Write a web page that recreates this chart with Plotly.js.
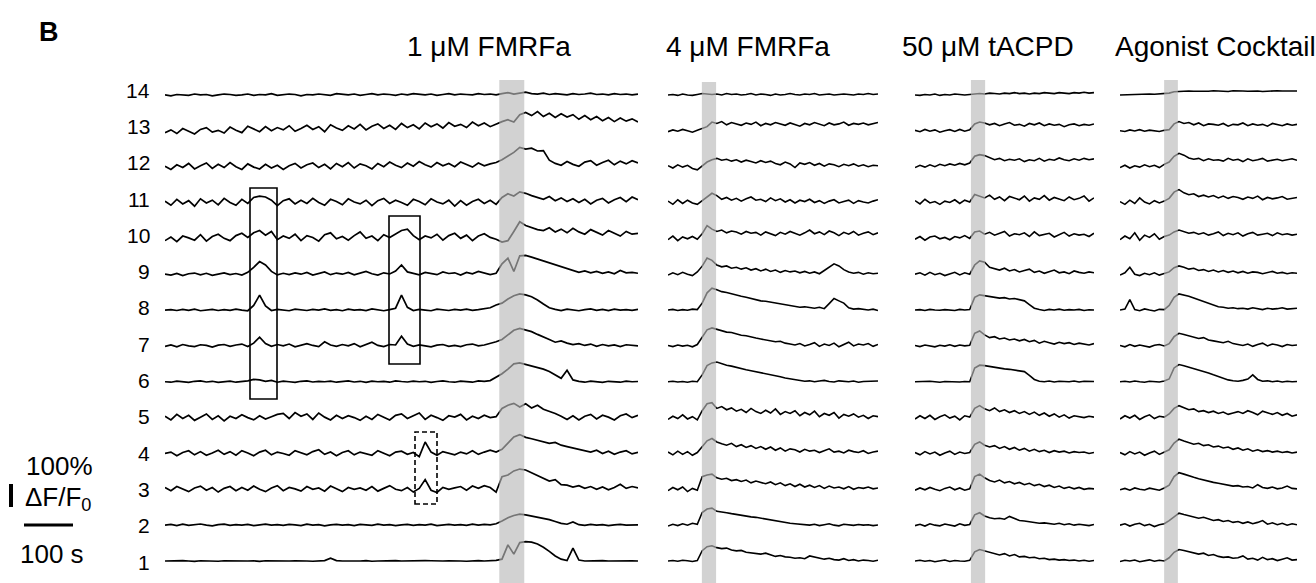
<!DOCTYPE html>
<html><head><meta charset="utf-8">
<script src="https://cdn.plot.ly/plotly-3.0.1.min.js"></script>
<style>html,body{margin:0;padding:0;background:#fff}#chart{width:1316px;height:583px}</style>
</head><body><div id="chart"></div>
<script>
// ---- data (ΔF/F0 in %, one sample list per cell and condition) ----
const panelTitles = ["1 μM FMRFa", "4 μM FMRFa", "50 μM tACPD", "Agonist Cocktail"];
const panelDuration = [965, 428, 365, 361];          // seconds shown per condition
const stimWindow = [[682, 733], [69, 98], [114, 143], [90, 118]]; // application (s)
const cellLabels = ["1","2","3","4","5","6","7","8","9","10","11","12","13","14"];

// Condition 1: 1 µM FMRFa
const p1_c1  = [0,1,-1,2,0,-2,1,0,2,-1, 1,0,2,-1,0,1,-2,1,0,2, -1,0,1,2,0,-1,1,2,12,2, 0,-1,1,0,2,-1,0,1,-1,2, 0,1,-1,0,2,1,-1,0,1,2, 0,-1,1,2,0,1,3,8,70,30, 80,84,82,74,60,42,22,8,2,56, 4,0,1,-1,2,0,1,-1,0,1, 0];
const p1_c2  = [0,3,-2,4,-1,2,5,0,-3,2, 4,-1,2,0,3,-2,1,4,0,2, -1,3,1,-2,4,0,2,-3,1,3, 0,2,-2,3,1,-1,4,0,2,-2, 1,3,-1,2,0,4,-2,1,3,0, 2,-1,4,0,3,1,6,18,32,42, 48,45,40,36,30,24,16,8,4,14, 2,-1,3,0,2,-2,1,3,0,2, 1];
const p1_c3  = [8,-6,12,0,-10,6,14,-4,8,-12, 4,12,-6,8,-4,14,0,-10,6,16, -6,8,2,-8,12,0,6,-8,14,2, -10,8,0,6,-4,12,-8,4,16,0, -6,8,-12,4,42,-4,-14,8,0,6, 12,-4,14,4,16,8,-12,55,62,80, 88,84,72,60,48,36,42,20,18,10, 16,4,12,0,10,-2,8,22,4,12, 6];
const p1_c4  = [0,6,-10,4,12,-6,8,-8,2,14, -4,8,-8,12,2,-10,6,14,-6,6, 0,-8,12,2,-6,8,16,-4,6,-10, 4,12,-6,6,0,-8,12,2,-10,6, 10,-4,4,-14,50,6,-8,8,2,-6, 6,-2,12,-4,6,14,6,18,45,72, 82,70,64,58,52,44,48,36,30,24, 18,10,6,14,0,10,-4,6,12,-2, 5];
const p1_c5  = [6,-10,14,-4,10,-12,2,16,-8,8, -14,6,-4,12,0,-10,8,-6,4,14, 18,-4,22,6,16,-8,20,2,-10,10, -4,8,0,-12,6,-8,14,2,-10,10, 16,-4,8,20,-8,10,0,-12,8,2, 14,-10,6,-4,10,0,4,40,54,62, 46,60,42,54,36,28,18,6,-8,8, -10,6,14,-6,10,2,-10,8,16,0, 10];
const p1_c6  = [0,-2,3,0,-3,2,4,-1,2,-3, 1,3,-2,0,4,10,8,2,6,-2, 3,0,-3,2,4,-1,2,0,3,-2, 1,4,-1,2,-3,3,0,2,-2,4, 1,-1,3,0,2,-3,1,4,0,-2, 3,1,-2,4,2,5,20,35,55,78, 82,76,70,62,55,45,30,15,50,8, 2,-2,3,0,-3,2,1,-2,3,0, 1];
const p1_c7  = [-2,4,-4,6,0,-3,5,2,-5,3, 6,-2,4,8,-3,12,38,10,-2,6, 0,8,-4,4,10,2,-3,18,4,-2, 6,0,10,-4,5,16,2,-3,6,4, 42,8,-2,4,0,-4,3,6,-2,2, -3,5,8,0,4,10,18,28,50,68, 76,70,62,50,40,28,16,22,12,6, 10,2,8,-2,6,0,4,-3,5,2, 0];
const p1_c8  = [0,2,-2,3,-1,4,-3,1,3,-2, 2,-1,4,0,-3,20,65,18,-2,3, 0,-3,4,1,-2,3,0,5,-1,2, -3,4,0,2,-2,5,1,-3,2,8, 65,12,-2,3,0,-3,4,1,-2,3, 0,4,-1,2,5,10,22,30,48,62, 70,66,58,44,26,10,3,-2,4,0, -3,2,5,-1,3,-2,4,0,2,-1, 3];
const p1_c9  = [0,-4,3,-6,2,5,-3,4,-5,1, 6,-2,3,-4,8,30,55,40,12,-3, 4,-2,6,0,8,-4,3,10,-2,5, 0,8,-3,4,12,2,-4,6,1,14, 40,10,2,-3,8,4,-2,10,3,6, -4,8,2,12,4,-2,4,45,70,12, 80,82,74,66,58,50,42,32,24,16, 8,14,6,12,4,10,2,16,6,8, 4];
const p1_c10 = [-10,6,-14,10,2,-8,16,-12,8,18, 0,-10,12,22,4,24,34,14,30,-6, 10,0,18,-10,12,4,-12,16,24,-2, 8,-8,12,28,0,10,-10,16,4,20, 34,40,12,-6,10,2,18,-8,12,22, 0,14,-10,10,20,4,-4,-16,-10,30, 72,56,48,38,34,46,28,40,24,44, 28,18,38,26,14,34,22,10,30,18, 22];
const p1_c11 = [6,-12,14,-6,8,-16,16,-2,10,-10, 18,0,-12,14,-4,22,28,24,10,-14, 8,16,-6,10,-4,18,0,-12,14,4, -10,16,2,-6,10,-14,8,18,-4,10, 0,-12,14,4,-10,16,2,-6,10,-16, 8,-12,4,14,-4,10,-8,22,38,28, 46,40,30,22,14,26,8,20,4,16, 0,14,-6,10,18,-2,12,22,4,24, 12];
const p1_c12 = [2,-12,8,-4,14,-10,4,16,-8,10, -4,18,0,-12,12,-2,-10,10,-6,6, -12,4,14,-6,8,16,-4,10,-10,14, 0,18,-6,12,4,-10,14,0,20,6, -4,16,2,22,8,-2,18,4,14,0, 20,8,-2,16,4,12,18,30,45,62, 84,76,80,68,70,28,14,6,22,10, 2,20,26,6,18,28,8,24,12,26, 16];
const p1_c13 = [-8,4,-12,10,-2,-14,6,14,-6,2, -10,16,2,-8,20,8,-4,18,0,14, 4,22,-2,10,24,6,18,-4,26,12, 2,22,8,28,4,20,30,10,24,6, 32,14,26,8,34,18,30,12,36,20, 28,14,38,22,34,18,30,40,48,38, 70,80,66,84,62,76,58,74,60,70, 50,66,48,62,44,58,40,56,42,52, 38];
const p1_c14 = [0,-4,2,0,-2,4,0,2,-4,0, 4,2,-2,0,4,-2,2,0,6,-2, 0,4,2,-4,2,0,4,0,-2,6, 2,0,4,-2,2,6,0,4,2,-2, 4,0,6,2,0,4,-2,2,6,0, 4,2,0,6,2,4,0,6,10,4, 8,12,6,4,8,2,6,4,0,6, 2,4,8,2,4,0,6,2,4,0, 4];

// Condition 2: 4 µM FMRFa
const p2_c1  = [0,2,-1,3,1,-2,2,45,62,66, 58,54,56,48,44,46,38,36,32,30, 34,26,20,24,18,16,12,14,10,22, 18,14,8,12,6,4,10,2,6,0, 4,2,-1,3];
const p2_c2  = [-4,4,-2,6,0,8,4,55,70,74, 60,58,54,50,46,44,40,36,34,30, 26,22,18,16,12,8,6,4,2,0, 4,-2,2,6,0,-3,4,2,-1,3, 0,2,-2,1];
const p2_c3  = [-6,8,-2,10,-10,4,-4,55,62,66, 50,44,48,38,42,34,40,28,36,30, 24,32,20,28,16,24,12,22,10,18, 8,16,4,14,6,10,2,12,0,8, 4,10,2,6];
const p2_c4  = [6,-6,10,-4,8,-8,4,30,55,65, 50,42,36,44,30,38,26,34,22,30, 18,28,14,24,10,20,16,6,18,10, 14,4,12,20,6,10,2,14,8,4, 12,0,6,10];
const p2_c5  = [-8,6,-4,12,-6,4,-10,30,60,65, 40,48,34,42,28,36,22,40,26,18, 32,20,38,14,26,18,30,8,22,12, 28,4,18,10,22,-2,14,6,16,2, 10,-4,8,4];
const p2_c6  = [0,2,-1,1,-2,2,0,30,70,82, 86,78,72,68,62,58,52,48,44,40, 36,32,26,22,16,12,8,6,2,4, 0,3,6,1,-1,4,2,0,3,-2, 1,2,0,3];
const p2_c7  = [2,-3,4,-1,3,-4,6,40,70,78, 72,66,60,58,52,46,44,38,34,30, 26,22,18,20,12,8,4,10,0,6, 14,-2,8,2,12,-4,6,16,0,8, 4,10,-2,6];
const p2_c8  = [0,3,-2,2,-1,4,2,30,75,95, 88,80,76,70,66,60,56,50,46,40, 38,34,30,26,22,18,16,12,14,10, 8,12,6,28,50,40,30,10,4,6, 2,0,4,-2];
const p2_c9  = [-4,6,-2,8,0,-6,10,35,70,60, 40,32,36,26,30,22,28,18,24,14, 22,12,18,8,16,10,14,6,12,4, 10,2,16,30,45,36,20,10,4,8, 0,6,2,4];
const p2_c10 = [-6,10,-10,6,-2,8,-4,20,55,40, 30,36,24,32,28,18,30,22,26,14, 28,20,12,26,18,30,22,14,24,36, 20,28,16,32,24,12,26,18,30,14, 22,28,16,24];
const p2_c11 = [6,-8,12,-4,10,-2,-8,8,20,40, 30,14,22,10,18,6,16,24,10,14, 4,20,8,16,2,12,-2,10,4,14, 0,8,-4,6,12,-2,4,10,-4,8, 2,-2,6,12];
const p2_c12 = [4,-6,8,-2,6,-8,-14,2,20,30, 36,28,32,24,30,20,28,22,16,26, 18,24,14,8,20,12,-4,16,10,18, 6,14,2,12,8,0,10,4,12,2, 8,0,6,4];
const p2_c13 = [-4,4,-2,6,0,-6,2,10,18,38, 32,40,26,36,30,24,34,28,38,22, 32,26,36,30,24,34,28,20,32,26, 36,28,22,34,26,30,38,24,32,28, 34,26,30,36];
const p2_c14 = [0,2,-2,4,0,-2,2,6,4,2, 4,0,6,2,4,0,2,6,0,4, 2,-2,4,0,2,6,2,0,4,2, 6,0,2,4,0,2,4,2,0,4, 2,6,2,4];

// Condition 3: 50 µM tACPD
const p3_c1  = [0,3,-1,2,-3,1,4,-2,2,0, -1,3,40,50,44,36,30,26,32,22, 28,18,20,14,16,10,12,6,8,4, 6,2,4,0,3,-1,2];
const p3_c2  = [-2,4,-4,6,0,-3,5,2,-4,6, -1,3,45,54,40,32,28,30,26,38, 28,20,18,14,12,8,10,6,4,8, 2,6,0,4,2,-2,3];
const p3_c3  = [-4,6,-2,8,0,-6,4,10,-2,6, -4,2,55,66,50,38,32,40,28,34, 24,30,20,26,16,22,12,18,8,14, 4,10,2,8,0,4,2];
const p3_c4  = [4,-6,8,-2,6,-8,2,10,-4,6, 0,4,40,50,36,28,34,22,30,18, 26,14,22,10,18,8,14,4,12,6, 10,2,8,4,6,0,4];
const p3_c5  = [-6,8,-4,10,-8,4,12,-2,6,-10, 8,2,40,52,38,30,42,26,34,22, 30,18,26,14,24,10,20,6,16,2, 12,-2,8,4,0,6,2];
const p3_c6  = [0,1,-1,2,0,-2,1,0,2,-1, 1,0,60,72,70,66,62,60,56,54, 50,48,44,28,10,2,0,3,-1,2, 1,0,3,-1,2,0,1];
const p3_c7  = [2,-3,4,0,-4,3,-1,5,-2,4, 0,3,55,65,48,36,40,30,34,26, 30,22,28,18,24,12,20,14,8,16, 10,14,6,12,8,4,10];
const p3_c8  = [0,2,-2,3,0,-1,2,1,-2,3, 0,2,55,66,62,58,56,52,54,48, 50,46,40,24,8,2,-2,3,0,4, -1,2,0,3,-2,1,0];
const p3_c9  = [0,6,-4,8,-2,4,-6,2,8,-3, 6,0,40,58,52,30,24,18,26,14, 20,10,16,22,8,14,4,12,18,6, 10,2,14,8,4,10,6];
const p3_c10 = [-4,8,-8,6,10,-2,4,-6,8,2, 12,0,28,32,18,26,14,22,30,10, 20,16,24,8,28,12,18,22,6,16, 26,10,20,14,18,8,22];
const p3_c11 = [8,-6,14,-2,4,-8,6,0,12,-4, 10,2,35,28,20,32,14,24,8,26, 18,12,28,6,20,14,30,10,22,16, 8,24,12,18,28,6,20];
const p3_c12 = [-4,6,-2,8,0,10,4,12,6,14, 8,16,45,52,48,40,30,36,26,32, 28,34,22,30,26,36,24,32,28,38, 30,26,34,28,36,30,34];
const p3_c13 = [2,-4,6,-2,4,-6,0,5,-3,6, -2,4,30,38,34,26,32,22,30,36, 24,28,20,32,26,34,22,30,24,28, 18,26,30,22,28,24,30];
const p3_c14 = [0,-2,2,0,4,-2,2,0,4,2, 0,2,4,6,4,8,6,4,8,6, 10,6,8,4,8,6,10,8,6,10, 8,6,10,8,12,8,10];

// Condition 4: agonist cocktail
const p4_c1  = [-2,3,0,4,-3,2,5,-1,3,0, 14,38,50,46,40,36,30,34,24,28, 20,16,18,12,14,22,8,12,4,16, 6,10,2,8,14,4,6];
const p4_c2  = [0,6,-4,4,8,-2,4,-6,2,6, 20,38,52,46,40,36,30,34,26,20, 24,16,20,12,16,8,14,6,12,20, 4,10,2,8,0,6,2];
const p4_c3  = [-2,4,-4,6,0,-3,5,2,-4,6, 18,55,72,66,58,52,46,40,36,30, 26,22,18,14,16,10,12,6,20,8, 4,10,2,6,14,4,2];
const p4_c4  = [4,-6,8,-2,6,-8,2,10,-4,6, 16,45,62,54,48,40,44,34,38,28, 32,24,28,18,24,14,20,10,16,8, 12,6,10,4,8,2,6];
const p4_c5  = [-6,8,-2,10,-8,4,12,-4,6,2, 16,40,52,42,34,38,26,30,22,28, 18,24,14,20,26,18,30,22,12,28, 20,14,22,10,18,6,12];
const p4_c6  = [0,2,-1,3,0,-2,2,1,-1,3, 12,60,75,70,64,56,50,44,38,30, 22,14,8,4,2,6,12,30,10,2, 4,0,3,-1,2,0,1];
const p4_c7  = [2,-4,6,-2,4,0,-5,3,6,0, 10,40,55,50,44,38,32,36,26,22, 18,14,20,10,6,2,8,-2,6,12, 0,8,4,-3,6,2,4];
const p4_c8  = [0,4,45,2,-3,5,0,-4,3,2, 20,55,70,66,60,52,44,36,28,20, 14,12,8,10,6,8,4,10,6,2, 8,4,6,10,4,6,8];
const p4_c9  = [-4,6,30,0,-6,4,-2,6,-4,2, 10,28,36,30,22,26,16,20,12,18, 10,16,8,14,6,12,4,10,8,2, 6,12,4,8,2,6,4];
const p4_c10 = [-6,10,-2,24,-8,14,4,20,-4,8, 14,28,36,30,22,26,18,24,14,20, 28,12,22,16,24,10,20,26,14,18, 22,12,24,16,20,14,18];
const p4_c11 = [4,-8,10,-4,20,2,-6,8,-2,6, 18,45,56,42,34,38,26,32,24,30, 20,28,18,26,22,14,24,18,28,12, 22,16,20,26,14,18,22];
const p4_c12 = [-4,6,-6,4,-2,8,0,6,-4,10, 20,45,58,50,38,32,36,26,34,28, 30,24,36,28,32,22,34,26,30,36, 24,28,32,26,30,34,28];
const p4_c13 = [0,-3,4,-1,5,-2,3,0,-3,2, 5,30,40,32,36,26,34,22,30,28, 24,32,20,28,26,34,22,30,24,28, 20,32,26,22,30,24,28];
const p4_c14 = [0,1,2,1,3,2,4,3,5,4, 8,14,16,15,17,16,15,17,16,18, 16,17,15,18,16,17,16,18,17,15, 17,16,18,17,16,18,17];

// ---- build ----
const W = 1316, H = 583;
const panelsData = [
  [p1_c1,p1_c2,p1_c3,p1_c4,p1_c5,p1_c6,p1_c7,p1_c8,p1_c9,p1_c10,p1_c11,p1_c12,p1_c13,p1_c14],
  [p2_c1,p2_c2,p2_c3,p2_c4,p2_c5,p2_c6,p2_c7,p2_c8,p2_c9,p2_c10,p2_c11,p2_c12,p2_c13,p2_c14],
  [p3_c1,p3_c2,p3_c3,p3_c4,p3_c5,p3_c6,p3_c7,p3_c8,p3_c9,p3_c10,p3_c11,p3_c12,p3_c13,p3_c14],
  [p4_c1,p4_c2,p4_c3,p4_c4,p4_c5,p4_c6,p4_c7,p4_c8,p4_c9,p4_c10,p4_c11,p4_c12,p4_c13,p4_c14]
];
const panelPx = [[165, 638], [668, 878], [915, 1094], [1120, 1297]];
const pxPerPct = 0.23;           // 23 px = 100 % ΔF/F0
const baseRow1 = 561, rowGap = 35.85;
const SP = rowGap / pxPerPct;    // row offset in % units
const yRange = [-(H - baseRow1) / pxPerPct, baseRow1 / pxPerPct];

const traces = [];
panelsData.forEach((rows, p) => {
  const ax = p === 0 ? '' : String(p + 1);
  rows.forEach((vals, r) => {
    const n = vals.length, dt = panelDuration[p] / (n - 1);
    traces.push({
      type: 'scatter', mode: 'lines', xaxis: 'x' + ax, yaxis: 'y',
      x: vals.map((_, i) => i * dt), y: vals.map(v => v + r * SP),
      line: { color: '#000', width: p === 0 ? 1.7 : 1.6 },
      hoverinfo: 'skip', showlegend: false
    });
  });
});

const font = 'Arial, "Liberation Sans", sans-serif';
const layout = {
  width: W, height: H, autosize: false,
  margin: { l: 0, r: 0, t: 0, b: 0 },
  paper_bgcolor: '#fff', plot_bgcolor: '#fff',
  showlegend: false,
  yaxis: { range: yRange, domain: [0, 1], visible: false, fixedrange: true },
  shapes: [], annotations: []
};
panelPx.forEach((d, p) => {
  const key = p === 0 ? 'xaxis' : 'xaxis' + (p + 1);
  layout[key] = { domain: [d[0] / W, d[1] / W], range: [0, panelDuration[p]], visible: false, anchor: 'y', fixedrange: true };
});

// stimulus bars (drawn above traces so traces look grey inside)
const barTop = [80, 82, 80, 80];
stimWindow.forEach((w, p) => {
  layout.shapes.push({ type: 'rect', layer: 'above', xref: p === 0 ? 'x' : 'x' + (p + 1), yref: 'paper',
    x0: w[0], x1: w[1], y0: 0, y1: 1 - barTop[p] / H,
    fillcolor: 'rgba(185,185,185,0.64)', line: { width: 0 } });
});

// highlight boxes (pixel positions)
const pxRect = (x0, x1, y0, y1, dash) => ({ type: 'rect', xref: 'paper', yref: 'paper', layer: 'above',
  x0: x0 / W, x1: x1 / W, y0: 1 - y1 / H, y1: 1 - y0 / H,
  line: { color: '#000', width: 1.6, dash: dash || 'solid' }, fillcolor: 'rgba(0,0,0,0)' });
layout.shapes.push(pxRect(250, 277, 188, 399));
layout.shapes.push(pxRect(389, 420, 216, 364));
layout.shapes.push(pxRect(415, 437, 432, 504, '5px,3px'));

// scale bars
const pxLine = (x0, y0, x1, y1, w) => ({ type: 'line', xref: 'paper', yref: 'paper',
  x0: x0 / W, x1: x1 / W, y0: 1 - y0 / H, y1: 1 - y1 / H, line: { color: '#000', width: w } });
layout.shapes.push(pxLine(11, 484, 11, 507, 4));
layout.shapes.push(pxLine(24, 525, 73, 525, 3));

const ann = (text, xpx, ypx, size, anchor, extra) => Object.assign({
  text, xref: 'paper', yref: 'paper', x: xpx / W, y: 1 - ypx / H,
  xanchor: anchor || 'center', yanchor: 'middle', showarrow: false,
  font: { family: font, size, color: '#000' } }, extra || {});

const titleX = [489, 748, 988, 1215];
panelTitles.forEach((t, p) => layout.annotations.push(ann(t, titleX[p], 47, 28)));
cellLabels.forEach((lab, r) => layout.annotations.push(ann(lab, 152, 562 - r * 36.3, 21, 'right')));
layout.annotations.push(ann('<b>B</b>', 49, 32, 27));
layout.annotations.push(ann('100%', 59, 466, 26));
layout.annotations.push(ann('ΔF/F<sub>0</sub>', 58, 498, 26));
layout.annotations.push(ann('100 s', 52, 554, 26));

Plotly.newPlot('chart', traces, layout, { staticPlot: true, displayModeBar: false });
</script></body></html>
